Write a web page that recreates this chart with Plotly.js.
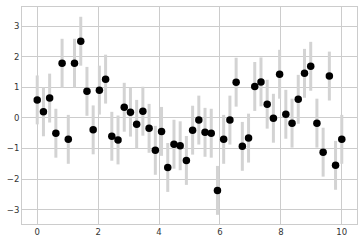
<!DOCTYPE html>
<html>
<head>
<meta charset="utf-8">
<script src="https://cdn.plot.ly/plotly-3.0.1.min.js"></script>
<style>html,body{margin:0;padding:0;background:#fff;}#chart{width:364px;height:244px;}</style>
</head>
<body>
<div id="chart"></div>
<script>
const xValues = [0.000,0.204,0.408,0.612,0.816,1.020,1.224,1.429,1.633,1.837,2.041,2.245,2.449,2.653,2.857,3.061,3.265,3.469,3.673,3.878,4.082,4.286,4.490,4.694,4.898,5.102,5.306,5.510,5.714,5.918,6.122,6.327,6.531,6.735,6.939,7.143,7.347,7.551,7.755,7.959,8.163,8.367,8.571,8.776,8.980,9.184,9.388,9.592,9.796,10.000];
const yValues = [0.59,0.20,0.65,-0.50,1.79,-0.70,1.79,2.51,0.87,-0.39,0.91,1.27,-0.60,-0.72,0.35,0.19,-0.21,0.22,-0.34,-1.06,-0.44,-1.62,-0.86,-0.91,-1.39,-0.40,-0.07,-0.47,-0.50,-2.37,-0.70,-0.07,1.17,-0.93,-0.66,1.03,1.18,0.45,-0.01,1.43,0.12,-0.17,0.61,1.46,1.69,-0.17,-1.12,1.37,-1.55,-0.70];
const yError = 0.8;
const xTicks = [0,2,4,6,8,10];
const yTicks = [-3,-2,-1,0,1,2,3];
const yTickText = ['\u22123','\u22122','\u22121','0','1','2','3'];

const trace = {
  x: xValues, y: yValues, type: 'scatter', mode: 'markers',
  marker: {color: 'black', size: 7.5},
  error_y: {type: 'constant', value: yError, color: 'lightgray', thickness: 3, width: 0},
  hoverinfo: 'none'
};
const axisCommon = {
  showgrid: true, gridcolor: '#cccccc', gridwidth: 1,
  zeroline: false, showline: true, mirror: true, linecolor: '#cccccc', linewidth: 1,
  ticks: '', tickfont: {family: 'DejaVu Sans', size: 8.5, color: '#333333'}
};
const layout = {
  width: 364, height: 244,
  margin: {l: 22, r: 7, t: 7, b: 20},
  paper_bgcolor: '#ffffff', plot_bgcolor: '#ffffff',
  showlegend: false,
  xaxis: Object.assign({}, axisCommon, {range: [-0.5, 10.5], tickvals: xTicks, ticktext: xTicks.map(String)}),
  yaxis: Object.assign({}, axisCommon, {range: [-3.47, 3.63], tickvals: yTicks, ticktext: yTickText})
};
Plotly.newPlot('chart', [trace], layout, {staticPlot: true, displayModeBar: false});
</script>
</body>
</html>
